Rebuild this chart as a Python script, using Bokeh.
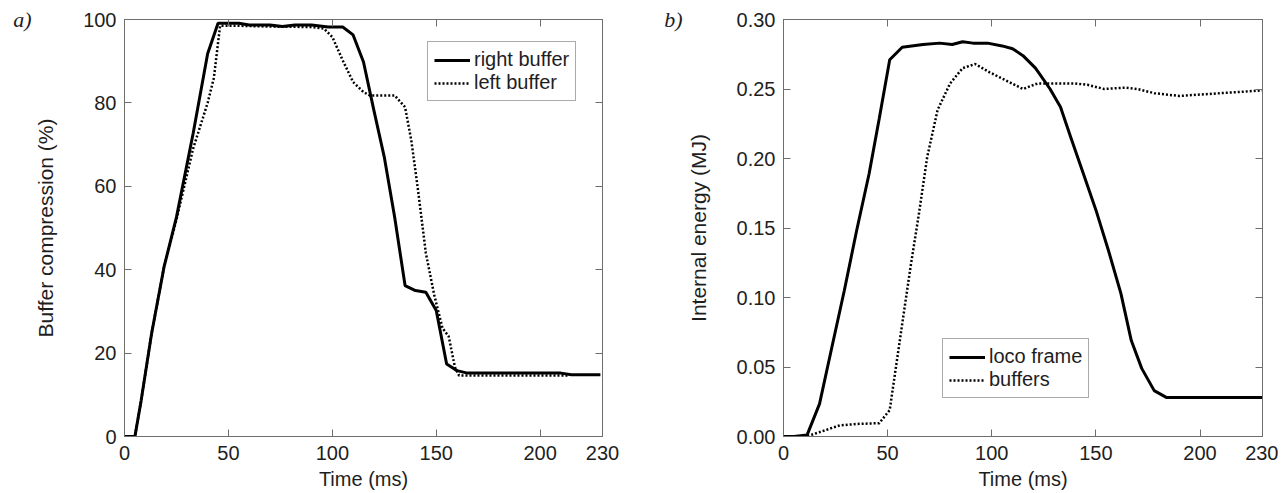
from bokeh.plotting import figure
from bokeh.models import (Range1d, FixedTicker, LinearAxis, Legend, LegendItem,
                          CustomJSTickFormatter)
from bokeh.layouts import row
from bokeh.embed import file_html
from bokeh.resources import INLINE

# ---- data (panel a) ----
t_a_right = [0, 5, 8, 13, 19, 25, 33, 40, 45, 55, 60, 70, 76, 82, 90, 98, 105, 110, 115, 120,
             125, 130, 135, 140, 145, 150, 155, 160, 165, 210, 215, 229]
v_a_right = [0, 0, 8.6, 24.6, 40.6, 52.6, 72.6, 91.8, 99.1, 99.1, 98.7, 98.7, 98.3, 98.7, 98.7,
             98.2, 98.2, 96.3, 89.8, 78.2, 67, 52.6, 36.2, 35, 34.6, 30.2, 17.4, 15.8, 15.2, 15.2,
             14.8, 14.8]
t_a_left = [0, 5, 8, 13, 19, 25, 33, 40, 43, 46, 55, 70, 90, 96, 100, 105, 110, 115, 118, 130,
            135, 138, 141, 145, 149, 153, 156, 159, 161, 214]
v_a_left = [0, 0, 8.6, 24.6, 40.6, 52, 69, 80, 86, 98.5, 98.5, 98.3, 98.2, 97.8, 95.8, 90.2, 85,
            82.6, 81.8, 81.8, 79, 71, 60, 44, 34, 26, 24, 16.6, 14.6, 14.6]

# ---- data (panel b) ----
t_b_frame = [0, 5, 11.3, 17.3, 23.2, 29.2, 35.1, 41.1, 46, 51, 57, 67, 75, 81, 86, 91, 98, 105,
             110, 115, 121, 128, 133, 138, 144, 150, 156, 162, 167, 172, 178, 184, 230]
e_b_frame = [0, 0, 0.001, 0.0235, 0.064, 0.105, 0.148, 0.189, 0.229, 0.271, 0.28, 0.282, 0.283,
             0.282, 0.284, 0.283, 0.283, 0.281, 0.279, 0.274, 0.265, 0.25, 0.237, 0.215, 0.189,
             0.163, 0.134, 0.103, 0.069, 0.049, 0.033, 0.028, 0.028]
t_b_buf = [0, 11, 17, 27, 35, 46, 51, 54, 57, 61, 65, 69, 74, 80, 86, 92, 99, 107, 115, 122, 130,
           140, 146, 154, 164, 170, 178, 190, 200, 210, 220, 230]
e_b_buf = [0, 0, 0.003, 0.008, 0.009, 0.0096, 0.019, 0.05, 0.081, 0.122, 0.16, 0.201, 0.235,
           0.254, 0.265, 0.268, 0.262, 0.256, 0.25, 0.254, 0.254, 0.254, 0.253, 0.25, 0.251, 0.25,
           0.247, 0.245, 0.246, 0.247, 0.248, 0.249]

x_ticks = [0, 50, 100, 150, 200, 230]
y_ticks_a = [0, 20, 40, 60, 80, 100]
y_ticks_b = [0, 0.05, 0.10, 0.15, 0.20, 0.25, 0.30]

FONT = "Liberation Sans"
GRAY = "#6e6e6e"
TXT = "#1e1e1e"


def style(p, yticks, yfmt=None):
    for ax in (p.xaxis[0], p.yaxis[0]):
        ax.major_tick_in = 7
        ax.major_tick_out = 0
        ax.minor_tick_line_color = None
        ax.axis_line_color = GRAY
        ax.major_tick_line_color = GRAY
        ax.major_label_text_font = FONT
        ax.major_label_text_font_size = "20px"
        ax.major_label_text_color = TXT
        ax.axis_label_text_font = FONT
        ax.axis_label_text_font_style = "normal"
        ax.axis_label_text_color = TXT
    p.xaxis[0].major_label_standoff = 9
    p.yaxis[0].major_label_standoff = 8
    p.xaxis[0].axis_label_text_font_size = "20px"
    p.yaxis[0].axis_label_text_font_size = "21px"
    p.xaxis[0].ticker = FixedTicker(ticks=x_ticks)
    p.yaxis[0].ticker = FixedTicker(ticks=yticks)
    if yfmt is not None:
        p.yaxis[0].formatter = yfmt
    blank = CustomJSTickFormatter(code="return '';")
    top = LinearAxis(ticker=FixedTicker(ticks=x_ticks), formatter=blank,
                     major_tick_in=7, major_tick_out=0, minor_tick_line_color=None,
                     axis_line_color=GRAY, major_tick_line_color=GRAY, major_label_standoff=0)
    right = LinearAxis(ticker=FixedTicker(ticks=yticks), formatter=blank,
                       major_tick_in=7, major_tick_out=0, minor_tick_line_color=None,
                       axis_line_color=GRAY, major_tick_line_color=GRAY, major_label_standoff=0)
    p.add_layout(top, "above")
    p.add_layout(right, "right")
    p.xgrid.visible = False
    p.ygrid.visible = False
    p.outline_line_color = GRAY


def panel_tag(p, y, text, standoff):
    # outer left axis carrying only the panel letter next to the top of the frame
    tag = LinearAxis(ticker=FixedTicker(ticks=[y]), major_label_overrides={y: text},
                     axis_line_color=None, major_tick_line_color=None,
                     minor_tick_line_color=None, major_label_standoff=standoff,
                     major_label_text_font="Liberation Serif",
                     major_label_text_font_style="italic",
                     major_label_text_font_size="22px", major_label_text_color=TXT)
    p.add_layout(tag, "left")


def legend(p, items, loc):
    lg = Legend(items=items, location=loc, label_text_font=FONT, label_text_font_size="20px",
                label_text_color=TXT, glyph_width=36, glyph_height=22, label_height=22,
                label_standoff=4, spacing=0, padding=6, margin=0,
                border_line_color="#555555", border_line_width=1, background_fill_alpha=1)
    p.add_layout(lg, "center")


# ---- panel a ----
pa = figure(width=643, height=485, output_backend="svg", toolbar_location=None,
            x_range=Range1d(0, 230), y_range=Range1d(0, 100),
            frame_width=478, frame_height=417,
            min_border_left=124, min_border_right=41, min_border_top=19, min_border_bottom=49)
pa.xaxis.axis_label = "Time (ms)"
pa.yaxis.axis_label = "Buffer compression (%)"
style(pa, y_ticks_a)
pa.xaxis[0].axis_label_standoff = -5
pa.yaxis[0].axis_label_standoff = 23
ra = pa.line(t_a_right, v_a_right, line_color="black", line_width=3)
la = pa.line(t_a_left, v_a_left, line_color="black", line_width=2.5, line_dash="2 2")
legend(pa, [LegendItem(label="right buffer", renderers=[ra]),
            LegendItem(label="left buffer", renderers=[la])], (303, 335))
panel_tag(pa, 100, "a)", -6)

# ---- panel b ----
pb = figure(width=635, height=485, output_backend="svg", toolbar_location=None,
            x_range=Range1d(0, 230), y_range=Range1d(0, 0.30),
            frame_width=479, frame_height=417,
            min_border_left=140, min_border_right=16, min_border_top=19, min_border_bottom=49)
pb.xaxis.axis_label = "Time (ms)"
pb.yaxis.axis_label = "Internal energy (MJ)"
style(pb, y_ticks_b, CustomJSTickFormatter(code="return tick.toFixed(2);"))
pb.xaxis[0].axis_label_standoff = -5
pb.yaxis[0].axis_label_standoff = 24
rb = pb.line(t_b_frame, e_b_frame, line_color="black", line_width=3)
lb = pb.line(t_b_buf, e_b_buf, line_color="black", line_width=2.5, line_dash="2 2")
legend(pb, [LegendItem(label="loco frame", renderers=[rb]),
            LegendItem(label="buffers", renderers=[lb])], (159, 38))
panel_tag(pb, 0.30, "b)", -5)

layout = row(pa, pb)
open("out.html", "w").write(file_html(layout, INLINE))
